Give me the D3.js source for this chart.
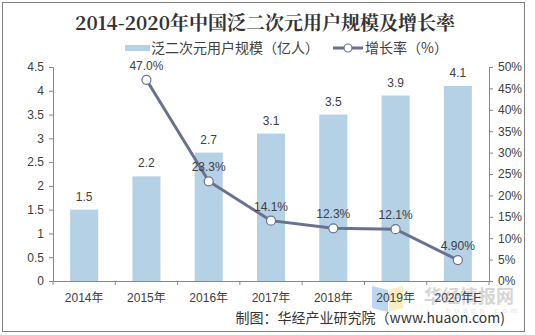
<!DOCTYPE html>
<html><head><meta charset="utf-8">
<script src="https://cdn.jsdelivr.net/npm/d3@7"></script>
<style>body{margin:0;background:#fff}svg{display:block}</style>
</head><body>
<svg id="c" width="535" height="335"></svg>
<script>
const categories = ["2014年","2015年","2016年","2017年","2018年","2019年","2020年E"];
const users = [1.5, 2.2, 2.7, 3.1, 3.5, 3.9, 4.1];
const rates = [null, 47.0, 23.3, 14.1, 12.3, 12.1, 4.9];
const rateLabels = [null, "47.0%", "23.3%", "14.1%", "12.3%", "12.1%", "4.90%"];
const leftTicks = [0,0.5,1,1.5,2,2.5,3,3.5,4,4.5];
const rightTicks = [0,5,10,15,20,25,30,35,40,45,50];

const svg = d3.select("#c");
const font = "Arial, 'Liberation Sans', 'Noto Sans CJK SC', sans-serif";
const cjk = "'Noto Sans CJK SC', sans-serif";
const M = {l:53, r:489, t:67, b:281};

svg.append("rect").attr("x",2.5).attr("y",2.5).attr("width",522).attr("height",329)
  .attr("fill","#fff").attr("stroke","#7f7f7f").attr("stroke-width",1);

svg.append("text").attr("x",265).attr("y",30).attr("text-anchor","middle")
  .attr("font-family","'Noto Serif CJK SC','Noto Sans CJK SC',serif").attr("font-weight","bold")
  .attr("font-size",19).attr("fill","#333").text("2014-2020年中国泛二次元用户规模及增长率");

const x = d3.scaleBand().domain(categories).range([M.l, M.r]).paddingInner(0.55).paddingOuter(0.275);
const xc = d => x(d) + x.bandwidth()/2;
const y = d3.scaleLinear().domain([0,4.5]).range([M.b, M.t]);
const y2 = d3.scaleLinear().domain([0,50]).range([M.b, M.t]);

// watermark (behind)
const wm = svg.append("g").attr("opacity",0.4);
wm.append("path").attr("d","M372,286 L388,290 L388,312 L372,308 Z").attr("fill","#5B9BD5");
wm.append("path").attr("d","M389,290 L403,286 L403,308 L389,312 Z").attr("fill","#F2D36B");
wm.append("text").attr("x",424).attr("y",303).attr("font-family",cjk).attr("font-weight","bold")
  .attr("font-size",18).attr("fill","#9a9a9a").text("华经情报网");
wm.append("text").attr("x",446).attr("y",313).attr("font-family",font)
  .attr("font-size",8).attr("letter-spacing",4).attr("fill","#bbb").text("huaon.com");

// bars
svg.append("g").selectAll("rect").data(users).join("rect")
  .attr("x",(d,i)=>x(categories[i])).attr("width",x.bandwidth())
  .attr("y",d=>y(d)).attr("height",d=>y(0)-y(d)).attr("fill","#B5D1E5");

// axes
const axL = svg.append("g").attr("transform",`translate(${M.l},0)`)
  .call(d3.axisLeft(y).tickValues(leftTicks).tickFormat(d=>d).tickSize(4).tickPadding(5));
const axR = svg.append("g").attr("transform",`translate(${M.r},0)`)
  .call(d3.axisRight(y2).tickValues(rightTicks).tickFormat(d=>d+"%").tickSize(4).tickPadding(5));
const bound = d3.scalePoint().domain(d3.range(categories.length+1)).range([M.l,M.r]);
const axB = svg.append("g").attr("transform",`translate(0,${M.b})`)
  .call(d3.axisBottom(x).tickSize(0).tickPadding(12));
axB.selectAll(".tick line").remove();
svg.append("g").selectAll("line").data(d3.range(categories.length+1)).join("line")
  .attr("x1",d=>bound(d)).attr("x2",d=>bound(d)).attr("y1",M.b).attr("y2",M.b+4).attr("stroke","#888");
[axL,axR,axB].forEach(a=>{
  a.select(".domain").attr("stroke","#888");
  a.selectAll(".tick line").attr("stroke","#888");
  a.selectAll("text").attr("font-family",font).attr("font-size",12).attr("fill","#404040");
});

// bar labels
svg.append("g").selectAll("text").data(users).join("text")
  .attr("x",(d,i)=>xc(categories[i])).attr("y",d=>y(d)-9).attr("text-anchor","middle")
  .attr("font-family",font).attr("font-size",12).attr("fill","#404040").text(d=>d);

// line
const pts = rates.map((r,i)=>({r,i,c:categories[i]})).filter(d=>d.r!==null);
svg.append("path").datum(pts)
  .attr("d",d3.line().x(d=>xc(d.c)).y(d=>y2(d.r)))
  .attr("fill","none").attr("stroke","#6A7190").attr("stroke-width",3);
svg.append("g").selectAll("circle").data(pts).join("circle")
  .attr("cx",d=>xc(d.c)).attr("cy",d=>y2(d.r)).attr("r",4.5)
  .attr("fill","#fff").attr("stroke","#6A7190").attr("stroke-width",1.2);
svg.append("g").selectAll("text").data(pts).join("text")
  .attr("x",d=>xc(d.c)).attr("y",d=>y2(d.r)-10).attr("text-anchor","middle")
  .attr("font-family",font).attr("font-size",12).attr("fill","#404040").text(d=>rateLabels[d.i]);

// legend
const lg = svg.append("g");
lg.append("rect").attr("x",125).attr("y",45).attr("width",25).attr("height",6).attr("fill","#B5D1E5");
lg.append("text").attr("x",151).attr("y",53).attr("font-family",cjk).attr("font-size",14).attr("fill","#404040").text("泛二次元用户规模（亿人）");
lg.append("line").attr("x1",333).attr("x2",363).attr("y1",48).attr("y2",48).attr("stroke","#6A7190").attr("stroke-width",3);
lg.append("circle").attr("cx",348).attr("cy",48).attr("r",4).attr("fill","#fff").attr("stroke","#6A7190").attr("stroke-width",1.2);
lg.append("text").attr("x",365).attr("y",53).attr("font-family",cjk).attr("font-size",14).attr("fill","#404040").text("增长率（%）");

svg.append("text").attr("x",505).attr("y",323).attr("text-anchor","end")
  .attr("font-family",cjk).attr("font-size",14).attr("fill","#333").text("制图：华经产业研究院（www.huaon.com)");
</script>
</body></html>
